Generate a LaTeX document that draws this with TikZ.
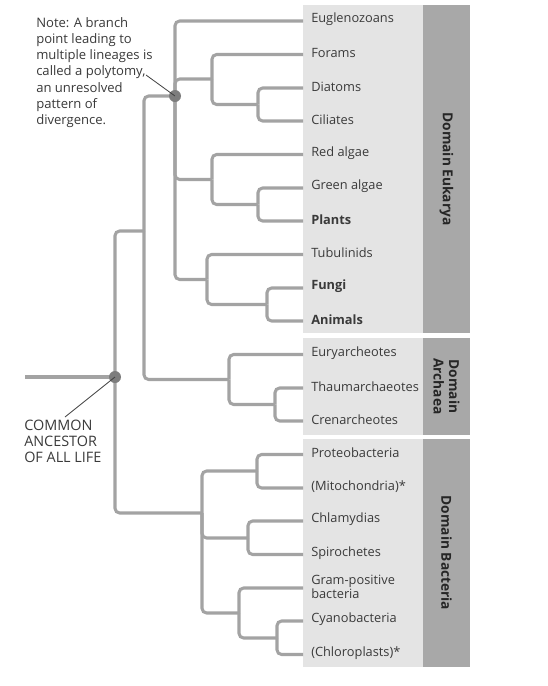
\documentclass[tikz,border=0pt]{standalone}
\usepackage{fontspec}
\setmainfont{Open Sans}
\begin{document}
\begin{tikzpicture}[x=0.75pt,y=-0.75pt,
  branch/.style={draw=lineg,line width=2.3pt,rounded corners=3.5pt},
  callout/.style={draw=black!75,line width=0.6pt},
  dot/.style={circle,fill=dotg,inner sep=0pt,minimum size=9pt},
  tiplabel/.style={anchor=west,inner sep=0pt,text=txtg,font=\fontsize{9.6}{11}\selectfont},
  domlabel/.style={rotate=-90,inner sep=0pt,align=center,text=black!85,font=\bfseries\fontsize{10.3}{11.5}\selectfont},
  lightbox/.style={fill=lightg},
  darkbox/.style={fill=darkg},
  notetext/.style={inner sep=0pt,align=left,text=txtg,font=\fontsize{9.8}{12.2}\selectfont}
]
\definecolor{lineg}{HTML}{A3A3A3}
\definecolor{dotg}{HTML}{7D7D7D}
\definecolor{lightg}{HTML}{E4E4E4}
\definecolor{darkg}{HTML}{A8A8A8}
\definecolor{txtg}{HTML}{3A3A3A}
\useasboundingbox[fill=white] (0,0) rectangle (548,686);

% domain boxes
\path[lightbox] (303,5) rectangle (423,333);
\path[darkbox] (423,5) rectangle (470,333);
\path[lightbox] (303,338) rectangle (423,435);
\path[darkbox] (423,338) rectangle (470,435);
\path[lightbox] (303,439) rectangle (423,667);
\path[darkbox] (423,439) rectangle (470,667);

\node[domlabel] (dE) at (446.5,169) {Domain Eukarya};
\node[domlabel] (dA) at (446.5,386.5) {Domain\\Archaea};
\node[domlabel] (dB) at (446.5,553) {Domain Bacteria};

% tips
\foreach \i/\y in {0/21,1/54.5,2/88,3/121,4/154.5,5/188,6/221,7/254.5,8/288,9/321,10/354.5,11/388,12/421,13/454.5,14/488,15/521,16/554.5,17/588,18/621,19/654.5}
  \coordinate (t\i) at (303,\y);

\node[tiplabel] (l0) at (311,19.5) {Euglenozoans};
\node[tiplabel] (l1) at (311,53) {Forams};
\node[tiplabel] (l2) at (311,86.5) {Diatoms};
\node[tiplabel] (l3) at (311,119.5) {Ciliates};
\node[tiplabel] (l4) at (311,153) {Red algae};
\node[tiplabel] (l5) at (311,186.5) {Green algae};
\node[tiplabel] (l6) at (311,219.5) {\bfseries Plants};
\node[tiplabel] (l7) at (311,253) {Tubulinids};
\node[tiplabel] (l8) at (311,286.5) {\bfseries Fungi};
\node[tiplabel] (l9) at (311,319.5) {\bfseries Animals};
\node[tiplabel] (l10) at (311,353) {Euryarcheotes};
\node[tiplabel] (l11) at (311,386.5) {Thaumarchaeotes};
\node[tiplabel] (l12) at (311,419.5) {Crenarcheotes};
\node[tiplabel] (l13) at (311,453) {Proteobacteria};
\node[tiplabel] (l14) at (311,486.5) {(Mitochondria)*};
\node[tiplabel] (l15) at (311,519.5) {Chlamydias};
\node[tiplabel] (l16) at (311,553) {Spirochetes};
\node[tiplabel,align=left,font=\fontsize{9.6}{9.5}\selectfont] (l17) at (311,587) {Gram-positive\\bacteria};
\node[tiplabel] (l18) at (311,619.5) {Cyanobacteria};
\node[tiplabel] (l19) at (311,653) {(Chloroplasts)*};

% internal nodes
\coordinate (DC) at (258,104.5);
\coordinate (FDC) at (212,79);
\coordinate (GP) at (258,204.5);
\coordinate (RGP) at (212,179.5);
\coordinate (FA) at (267,304.5);
\coordinate (TFA) at (207,279.5);
\coordinate (EUK) at (175,96);
\coordinate (TC) at (275,404.5);
\coordinate (ARC) at (229,379.5);
\coordinate (EA) at (144,231);
\coordinate (PM) at (257,471);
\coordinate (CS) at (248,538);
\coordinate (CC) at (277,638);
\coordinate (GCC) at (239,613);
\coordinate (BAC) at (202,513);
\coordinate (ROOT) at (115,377);
\coordinate (stem) at (25,377);

% branches
\draw[branch] (DC) |- (t2);
\draw[branch] (DC) |- (t3);
\draw[branch] (FDC) |- (t1);
\draw[branch] (FDC) |- (DC);
\draw[branch] (GP) |- (t5);
\draw[branch] (GP) |- (t6);
\draw[branch] (RGP) |- (t4);
\draw[branch] (RGP) |- (GP);
\draw[branch] (FA) |- (t8);
\draw[branch] (FA) |- (t9);
\draw[branch] (TFA) |- (t7);
\draw[branch] (TFA) |- (FA);
\draw[branch] (EUK) |- (t0);
\draw[branch] (EUK) |- (FDC);
\draw[branch] (EUK) |- (RGP);
\draw[branch] (EUK) |- (TFA);
\draw[branch] (TC) |- (t11);
\draw[branch] (TC) |- (t12);
\draw[branch] (ARC) |- (t10);
\draw[branch] (ARC) |- (TC);
\draw[branch] (EA) |- (EUK);
\draw[branch] (EA) |- (ARC);
\draw[branch] (PM) |- (t13);
\draw[branch] (PM) |- (t14);
\draw[branch] (CS) |- (t15);
\draw[branch] (CS) |- (t16);
\draw[branch] (CC) |- (t18);
\draw[branch] (CC) |- (t19);
\draw[branch] (GCC) |- (t17);
\draw[branch] (GCC) |- (CC);
\draw[branch] (BAC) |- (PM);
\draw[branch] (BAC) |- (CS);
\draw[branch] (BAC) |- (GCC);
\draw[branch] (ROOT) |- (EA);
\draw[branch] (ROOT) |- (BAC);
\draw[branch] (stem) -- (ROOT);

% dots and callouts
\node[dot] (dEUK) at (EUK) {};
\node[dot] (dROOT) at (ROOT) {};

\node[notetext,anchor=north west] (note) at (36,17) {Note: A branch\\point leading to\\multiple lineages is\\called a polytomy,\\an unresolved\\pattern of\\divergence.};
\coordinate (noteend) at (146,75);
\draw[callout] (noteend) -- (dEUK.center);

\node[notetext,anchor=north west,font=\fontsize{10.8}{12}\selectfont] (anc) at (24,420) {COMMON\\ANCESTOR\\OF ALL LIFE};
\coordinate (ancend) at (65,417);
\draw[callout] (ancend) -- (dROOT.center);
\end{tikzpicture}
\end{document}
